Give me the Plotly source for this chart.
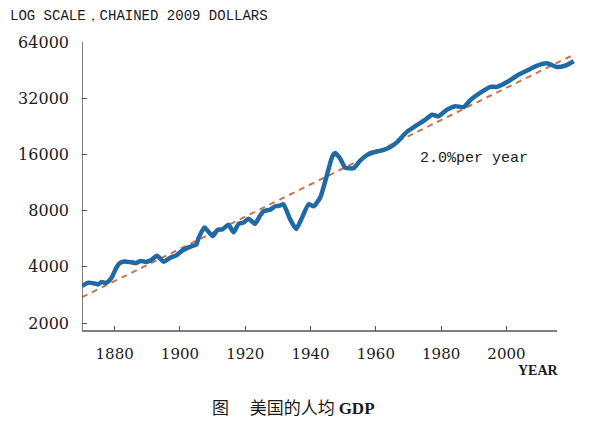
import math
import plotly.graph_objects as go

# ---- data ----
years = [1870, 1872, 1874, 1875, 1876, 1877, 1878, 1879, 1880.5, 1881.5, 1883, 1885,
         1886.5, 1888, 1889.5, 1891, 1893, 1895, 1897, 1899, 1900.5, 1902, 1903.5,
         1905, 1905.7, 1907.5, 1910, 1911.5, 1913, 1914.9, 1916.4, 1918, 1919.5,
         1921, 1923, 1924.5, 1925.6, 1927.7, 1929.2, 1930.5, 1931.7, 1933.8, 1935.6,
         1937.5, 1939.4, 1941, 1943, 1945, 1946.6, 1947.6, 1949.1, 1950.6, 1953.2,
         1955.2, 1957.8, 1959.3, 1962.4, 1964.4, 1966.5, 1969.5, 1972.6, 1975.1,
         1977.2, 1979.2, 1981.8, 1984.3, 1986.9, 1989, 1993, 1995.1, 1997.1, 2000.2,
         2003.3, 2006.3, 2009.4, 2012.4, 2015.5, 2018, 2020.6]
gdp = [3160, 3290, 3250, 3220, 3320, 3280, 3330, 3480, 3950, 4180, 4270, 4230,
       4190, 4300, 4250, 4330, 4580, 4260, 4470, 4620, 4850, 5020, 5150,
       5250, 5700, 6500, 5840, 6300, 6350, 6720, 6120, 6800, 6900,
       7230, 6800, 7500, 7930, 8100, 8440, 8500, 8650, 7150, 6380,
       7400, 8650, 8440, 9440, 12350, 15500, 16260, 15150, 13600, 13500,
       14800, 16100, 16430, 16940, 17500, 18620, 21130, 23000, 24500,
       26100, 25600, 27800, 28980, 28700, 31300, 35100, 36800, 36800, 39050,
       42370, 45000, 47800, 49200, 47000, 47800, 50500]

trend_years = [1870, 2021]
trend_values = [2750, 55200]

y_ticks = [2000, 4000, 8000, 16000, 32000, 64000]
y_tick_labels = ["2000", "4000", "8000", "16000", "32000", "64000"]
x_ticks = [1880, 1900, 1920, 1940, 1960, 1980, 2000]
x_tick_labels = ["1880", "1900", "1920", "1940", "1960", "1980", "2000"]

# ---- layout geometry ----
W, H = 605, 423
L, R, T, B = 82, 25, 42, 92
pw, ph = W - L - R, H - T - B
px_per_year = 3.265
xmax = 1870 + pw / px_per_year
px_per_oct = 56.2
ymax = math.log10(64000)
ymin = ymax - (ph / px_per_oct) * math.log10(2)

def px(xp):
    return (xp - L) / pw

def py(yp):
    return (H - B - yp) / ph

axis_col = "#555555"
txt_col = "#1a1a1a"

fig = go.Figure()
fig.add_trace(go.Scatter(x=trend_years, y=trend_values, mode="lines",
                         line=dict(color="#c8744e", width=2, dash="6px,5px"),
                         hoverinfo="skip"))
fig.add_trace(go.Scatter(x=years, y=gdp, mode="lines",
                         line=dict(color="#1f6aa5", width=4.5, shape="spline", smoothing=0.5)))

fig.update_layout(
    width=W, height=H,
    margin=dict(l=L, r=R, t=T, b=B),
    paper_bgcolor="white", plot_bgcolor="white",
    showlegend=False,
    xaxis=dict(range=[1870, xmax], showgrid=False, zeroline=False, showline=False,
               tickvals=x_ticks, ticktext=x_tick_labels, ticks="inside", ticklen=5,
               tickcolor=axis_col, tickwidth=1, ticklabelstandoff=12,
               tickfont=dict(family="DejaVu Serif", size=15, color=txt_col)),
    yaxis=dict(type="log", range=[ymin, ymax], showgrid=False, zeroline=False,
               showline=False, tickvals=y_ticks, ticktext=y_tick_labels,
               ticks="inside", ticklen=5, tickcolor=axis_col, tickwidth=1,
               ticklabelstandoff=12,
               tickfont=dict(family="DejaVu Serif", size=16, color=txt_col)),
    shapes=[
        dict(type="line", xref="x", yref="paper", x0=1870, x1=2015.5, y0=0, y1=0,
             line=dict(color=axis_col, width=1.5)),
        dict(type="line", xref="x", yref="paper", x0=1870, x1=1870, y0=0, y1=1,
             line=dict(color=axis_col, width=1.5)),
    ],
    annotations=[
        dict(text="LOG SCALE，CHAINED 2009 DOLLARS", xref="paper", yref="paper",
             x=px(8), y=py(16), xanchor="left", yanchor="middle", showarrow=False,
             font=dict(family="Liberation Mono", size=14, color=txt_col)),
        dict(text="2.0%per year", xref="paper", yref="paper",
             x=px(418), y=py(158), xanchor="left", yanchor="middle", showarrow=False,
             font=dict(family="Liberation Mono", size=15, color=txt_col)),
        dict(text="<b>YEAR</b>", xref="paper", yref="paper",
             x=px(561), y=py(370), xanchor="right", yanchor="middle", showarrow=False,
             font=dict(family="Liberation Serif", size=14, color=txt_col)),
        dict(text="图　 美国的人均 <span style=\"font-family:'Liberation Serif'\"><b>GDP</b></span>",
             xref="paper", yref="paper",
             x=px(293), y=py(406), xanchor="center", yanchor="middle", showarrow=False,
             font=dict(family="Noto Sans CJK SC", size=17, color=txt_col)),
    ],
)

fig.write_html("out.html")
